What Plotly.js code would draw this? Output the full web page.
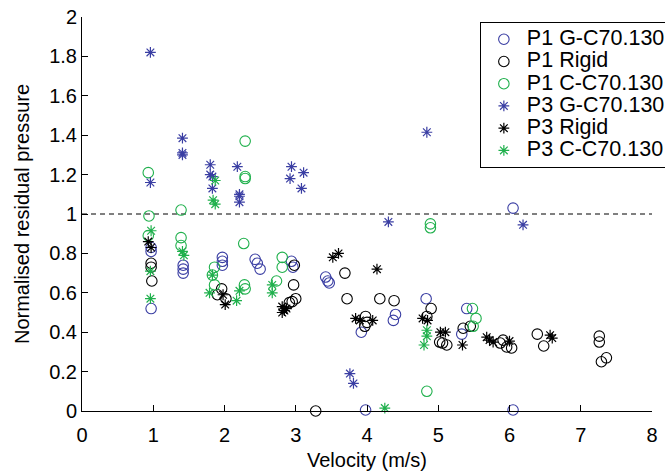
<!DOCTYPE html>
<html>
<head>
<meta charset="utf-8">
<script src="https://cdn.plot.ly/plotly-3.0.1.min.js"></script>
<style>html,body{margin:0;padding:0;background:#fff;}#chart{width:665px;height:475px;}</style>
</head>
<body>
<div id="chart"></div>
<script>
// Series names
const seriesNames = ['P1 G-C70.130', 'P1 Rigid', 'P1 C-C70.130', 'P3 G-C70.130', 'P3 Rigid', 'P3 C-C70.130'];

// P1 G-C70.130 (blue circles)
const p1gX = [0.97,0.97,0.97,1.42,1.42,1.42,1.97,1.97,1.97,2.43,2.46,2.50,2.94,2.96,3.42,3.45,3.47,3.92,3.98,4.40,4.37,4.83,5.40,5.33,6.05,6.05];
const p1gY = [0.83,0.81,0.52,0.74,0.72,0.70,0.78,0.76,0.74,0.77,0.75,0.72,0.76,0.73,0.68,0.66,0.65,0.40,0.005,0.49,0.46,0.57,0.52,0.39,1.03,0.005];

// P1 Rigid (black circles)
const p1rX = [0.97,0.97,0.98,1.96,1.90,2.02,2.98,2.97,3.00,2.95,2.91,3.28,3.69,3.72,3.98,4.00,3.97,4.18,4.38,4.90,4.84,5.02,5.06,5.12,5.35,5.45,5.91,5.87,5.96,6.03,6.39,6.48,7.26,7.26,7.36,7.29];
const p1rY = [0.75,0.73,0.66,0.62,0.59,0.57,0.74,0.64,0.57,0.555,0.55,0.0,0.70,0.57,0.48,0.45,0.43,0.57,0.56,0.52,0.48,0.35,0.345,0.335,0.42,0.43,0.36,0.345,0.325,0.32,0.39,0.33,0.38,0.35,0.27,0.25];

// P1 C-C70.130 (green circles)
const p1cX = [0.93,0.94,0.93,1.39,1.39,1.39,2.29,2.29,2.29,2.27,1.86,1.83,1.86,2.28,2.29,2.81,2.81,2.73,4.89,4.89,4.84,5.48,5.53,5.49];
const p1cY = [1.21,0.99,0.89,1.02,0.88,0.84,1.37,1.19,1.18,0.85,0.73,0.69,0.64,0.64,0.62,0.78,0.73,0.66,0.95,0.93,0.10,0.52,0.47,0.43];

// P3 G-C70.130 (blue stars)
const p3gX = [0.96,0.96,1.41,1.41,1.41,1.80,1.80,1.83,1.83,2.18,2.21,2.21,2.21,2.94,3.11,2.92,3.08,4.84,4.30,3.76,3.81,6.19];
const p3gY = [1.82,1.16,1.385,1.31,1.30,1.25,1.20,1.19,1.13,1.24,1.10,1.09,1.06,1.24,1.21,1.18,1.13,1.415,0.96,0.19,0.14,0.945];

// P3 Rigid (black stars)
const p3rX = [0.93,0.97,1.98,2.01,2.81,2.84,2.81,2.87,3.52,3.60,4.14,3.84,3.90,4.08,4.78,4.85,5.03,5.10,5.34,5.68,5.72,5.77,6.00,6.57,6.60];
const p3rY = [0.86,0.83,0.59,0.54,0.53,0.51,0.50,0.52,0.78,0.80,0.72,0.47,0.46,0.46,0.47,0.46,0.40,0.40,0.335,0.375,0.36,0.35,0.355,0.385,0.37];

// P3 C-C70.130 (green stars)
const p3cX = [0.97,0.96,0.96,1.41,1.43,1.87,1.84,1.87,1.83,1.79,2.17,2.21,2.67,2.67,4.25,4.84,4.84,4.80];
const p3cY = [0.915,0.71,0.57,0.81,0.79,1.17,1.07,1.05,0.69,0.60,0.56,0.61,0.64,0.60,0.015,0.41,0.38,0.335];

// Reference line and axis ticks
const refLevel = 1;
const xRange = [0, 8];
const yRange = [0, 2];
const xTicks = [0,1,2,3,4,5,6,7,8];
const yTicks = [0,0.2,0.4,0.6,0.8,1,1.2,1.4,1.6,1.8,2];
const yTickText = ['0','0.2','0.4','0.6','0.8','1','1.2','1.4','1.6','1.8','2'];

const BLUE = '#3a3ea3', BLACK = '#000000', GREEN = '#1fb04c';
const FONT = 'Liberation Sans, Arial, Helvetica, sans-serif';

function lbl(s) { return '<span style="font-size:21.5px">' + s + '</span>'; }
function circ(x, y, name, color) {
  return {x: x, y: y, name: lbl(name), type: 'scatter', mode: 'markers', cliponaxis: false,
    marker: {symbol: 'circle-open', size: 10.5, color: color, line: {width: 1.1, color: color}}};
}
function star(x, y, name, color) {
  return {x: x, y: y, name: lbl(name), type: 'scatter', mode: 'markers', cliponaxis: false,
    marker: {symbol: 'asterisk-open', size: 9, color: color, line: {width: 1.2, color: color}}};
}

const data = [
  circ(p1gX, p1gY, seriesNames[0], BLUE),
  circ(p1rX, p1rY, seriesNames[1], BLACK),
  circ(p1cX, p1cY, seriesNames[2], GREEN),
  star(p3gX, p3gY, seriesNames[3], BLUE),
  star(p3rX, p3rY, seriesNames[4], BLACK),
  star(p3cX, p3cY, seriesNames[5], GREEN)
];

const layout = {
  width: 665, height: 475,
  margin: {l: 82, r: 13, t: 17, b: 64, pad: 0, autoexpand: false},
  paper_bgcolor: '#fff', plot_bgcolor: '#fff',
  font: {family: FONT, size: 20, color: '#000'},
  showlegend: true,
  legend: {x: 0.698, y: 0.987, xanchor: 'left', yanchor: 'top',
    bgcolor: '#fff', bordercolor: '#000', borderwidth: 1,
    font: {family: FONT, size: 14.8, color: '#000'}, tracegroupgap: 0, itemwidth: 36},
  xaxis: {range: xRange, tickvals: xTicks, ticktext: xTicks.map(String),
    showgrid: false, zeroline: false, showline: true, linecolor: '#000', linewidth: 1,
    ticks: 'inside', ticklen: 6, tickcolor: '#000', tickwidth: 1, mirror: false,
    ticklabelstandoff: 6,
    tickfont: {family: FONT, size: 20, color: '#000'},
    title: {text: 'Velocity (m/s)', font: {family: FONT, size: 20, color: '#000'}, standoff: 7}},
  yaxis: {range: yRange, tickvals: yTicks, ticktext: yTickText,
    showgrid: false, zeroline: false, showline: true, linecolor: '#000', linewidth: 1,
    ticks: 'inside', ticklen: 6, tickcolor: '#000', tickwidth: 1, mirror: false,
    tickfont: {family: FONT, size: 20, color: '#000'},
    title: {text: 'Normalised residual pressure', font: {family: FONT, size: 20, color: '#000'}, standoff: 14}},
  shapes: [{type: 'line', xref: 'x', yref: 'y', x0: xRange[0], x1: xRange[1], y0: refLevel, y1: refLevel,
    line: {color: '#000', width: 1, dash: '5px,4px'}, layer: 'below'}]
};

Plotly.newPlot('chart', data, layout, {displayModeBar: false, staticPlot: true});
</script>
</body>
</html>
